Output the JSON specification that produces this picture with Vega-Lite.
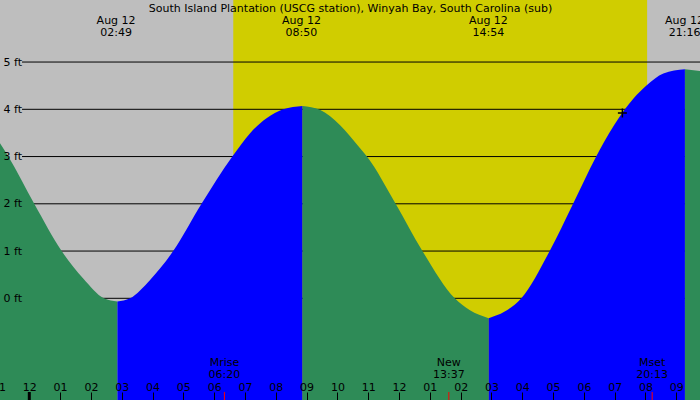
{
  "$schema": "https://vega.github.io/schema/vega-lite/v6.json",
  "width": 702,
  "height": 400,
  "autosize": {"type": "none"},
  "padding": {"left": -2, "right": 0, "top": 0, "bottom": 0},
  "background": "#BEBEBE",
  "datasets": {
    "sky": [
      {"start": -1.5, "end": 6.62, "kind": "night"},
      {"start": 6.62, "end": 20.06, "kind": "day"},
      {"start": 20.06, "end": 22.5, "kind": "night"}
    ],
    "levels": [
      {"ft": 0}, {"ft": 1}, {"ft": 2}, {"ft": 3}, {"ft": 4}, {"ft": 5}
    ],
    "tide": [
      {"h": -1.1, "ft": 3.43, "seg": "a", "kind": "falling"},
      {"h": -0.68, "ft": 3.0, "seg": "a", "kind": "falling"},
      {"h": 0.16, "ft": 2.0, "seg": "a", "kind": "falling"},
      {"h": 1.05, "ft": 1.0, "seg": "a", "kind": "falling"},
      {"h": 1.75, "ft": 0.42, "seg": "a", "kind": "falling"},
      {"h": 2.42, "ft": 0.0, "seg": "a", "kind": "falling"},
      {"h": 2.86, "ft": -0.07, "seg": "a", "kind": "falling"},
      {"h": 2.86, "ft": -0.07, "seg": "b", "kind": "rising"},
      {"h": 3.27, "ft": 0.0, "seg": "b", "kind": "rising"},
      {"h": 3.92, "ft": 0.39, "seg": "b", "kind": "rising"},
      {"h": 4.67, "ft": 1.0, "seg": "b", "kind": "rising"},
      {"h": 5.59, "ft": 2.0, "seg": "b", "kind": "rising"},
      {"h": 6.59, "ft": 3.0, "seg": "b", "kind": "rising"},
      {"h": 7.16, "ft": 3.49, "seg": "b", "kind": "rising"},
      {"h": 7.7, "ft": 3.81, "seg": "b", "kind": "rising"},
      {"h": 8.24, "ft": 4.0, "seg": "b", "kind": "rising"},
      {"h": 8.87, "ft": 4.07, "seg": "b", "kind": "rising"},
      {"h": 8.87, "ft": 4.07, "seg": "c", "kind": "falling"},
      {"h": 9.43, "ft": 3.99, "seg": "c", "kind": "falling"},
      {"h": 10.08, "ft": 3.67, "seg": "c", "kind": "falling"},
      {"h": 10.73, "ft": 3.18, "seg": "c", "kind": "falling"},
      {"h": 10.96, "ft": 3.0, "seg": "c", "kind": "falling"},
      {"h": 11.89, "ft": 2.0, "seg": "c", "kind": "falling"},
      {"h": 12.76, "ft": 1.0, "seg": "c", "kind": "falling"},
      {"h": 13.81, "ft": 0.0, "seg": "c", "kind": "falling"},
      {"h": 14.29, "ft": -0.25, "seg": "c", "kind": "falling"},
      {"h": 14.91, "ft": -0.42, "seg": "c", "kind": "falling"},
      {"h": 14.91, "ft": -0.42, "seg": "d", "kind": "rising"},
      {"h": 15.43, "ft": -0.28, "seg": "d", "kind": "rising"},
      {"h": 15.97, "ft": 0.0, "seg": "d", "kind": "rising"},
      {"h": 16.89, "ft": 1.0, "seg": "d", "kind": "rising"},
      {"h": 17.65, "ft": 2.0, "seg": "d", "kind": "rising"},
      {"h": 18.4, "ft": 3.0, "seg": "d", "kind": "rising"},
      {"h": 18.65, "ft": 3.3, "seg": "d", "kind": "rising"},
      {"h": 19.33, "ft": 4.0, "seg": "d", "kind": "rising"},
      {"h": 19.61, "ft": 4.23, "seg": "d", "kind": "rising"},
      {"h": 20.04, "ft": 4.51, "seg": "d", "kind": "rising"},
      {"h": 20.58, "ft": 4.76, "seg": "d", "kind": "rising"},
      {"h": 21.28, "ft": 4.85, "seg": "d", "kind": "rising"},
      {"h": 21.28, "ft": 4.85, "seg": "e", "kind": "falling"},
      {"h": 21.8, "ft": 4.81, "seg": "e", "kind": "falling"}
    ],
    "extremes": [
      {"h": 2.817, "label": "Aug 12\n02:49"},
      {"h": 8.833, "label": "Aug 12\n08:50"},
      {"h": 14.9, "label": "Aug 12\n14:54"},
      {"h": 21.267, "label": "Aug 12\n21:16"}
    ],
    "moon": [
      {"h": 6.333, "label": "Mrise\n06:20"},
      {"h": 13.617, "label": "New\n13:37"},
      {"h": 20.217, "label": "Mset\n20:13"}
    ],
    "now": [
      {"h": 19.25, "ft": 3.92}
    ],
    "heading": [
      {"h": 10.425, "label": "South Island Plantation (USCG station), Winyah Bay, South Carolina (sub)"}
    ]
  },
  "layer": [
    {
      "data": {"name": "sky"},
      "mark": {"type": "rect", "clip": true},
      "encoding": {
        "x": {
          "field": "start",
          "type": "quantitative",
          "scale": {"domain": [-1.016, 21.769], "nice": false, "zero": false},
          "axis": {"orient": "top", "offset": -400, "title": null, "zindex": 1, "values": [-1, 0, 1, 2, 3, 4, 5, 6, 7, 8, 9, 10, 11, 12, 13, 14, 15, 16, 17, 18, 19, 20, 21], "labelExpr": "pad('' + (((datum.value + 23) % 12) + 1), 2, '0', 'left')"}
        },
        "x2": {"field": "end"},
        "color": {
          "field": "kind",
          "type": "nominal",
          "scale": {"domain": ["night", "day", "falling", "rising"], "range": ["#BEBEBE", "#D0CD00", "#2E8B57", "#0000FF"]},
          "legend": null
        }
      }
    },
    {
      "data": {"name": "levels"},
      "mark": {"type": "rule", "color": "black", "strokeWidth": 1},
      "encoding": {
        "x": {
          "datum": -0.237,
          "type": "quantitative",
          "scale": {"domain": [-1.016, 21.769], "nice": false, "zero": false},
          "axis": {"orient": "top", "offset": -400, "title": null, "zindex": 1, "values": [-1, 0, 1, 2, 3, 4, 5, 6, 7, 8, 9, 10, 11, 12, 13, 14, 15, 16, 17, 18, 19, 20, 21], "labelExpr": "pad('' + (((datum.value + 23) % 12) + 1), 2, '0', 'left')"}
        },
        "x2": {"datum": 21.8},
        "y": {
          "field": "ft",
          "type": "quantitative",
          "scale": {"domain": [-2.152, 6.313], "nice": false, "zero": false},
          "axis": {
            "orient": "right",
            "offset": -702,
            "values": [0, 1, 2, 3, 4, 5],
            "labelExpr": "datum.value + ' ft'",
            "labelPadding": 5,
            "labelBaseline": "middle",
            "ticks": false,
            "title": null,
            "zindex": 1
          }
        }
      }
    },
    {
      "data": {"name": "tide"},
      "mark": {"type": "area", "interpolate": "monotone", "clip": true},
      "encoding": {
        "x": {
          "field": "h",
          "type": "quantitative",
          "scale": {"domain": [-1.016, 21.769], "nice": false, "zero": false},
          "axis": {"orient": "top", "offset": -400, "title": null, "zindex": 1, "values": [-1, 0, 1, 2, 3, 4, 5, 6, 7, 8, 9, 10, 11, 12, 13, 14, 15, 16, 17, 18, 19, 20, 21], "labelExpr": "pad('' + (((datum.value + 23) % 12) + 1), 2, '0', 'left')"}
        },
        "y": {"field": "ft", "type": "quantitative", "scale": {"domain": [-2.152, 6.313], "nice": false, "zero": false}},
        "y2": {"datum": -2.3},
        "detail": {"field": "seg"},
        "color": {
          "field": "kind",
          "type": "nominal",
          "scale": {"domain": ["night", "day", "falling", "rising"], "range": ["#BEBEBE", "#D0CD00", "#2E8B57", "#0000FF"]},
          "legend": null
        }
      }
    },
    {
      "data": {"values": [{"h": 0}]},
      "mark": {"type": "rule", "color": "black", "strokeWidth": 3},
      "encoding": {
        "x": {
          "field": "h",
          "type": "quantitative",
          "scale": {"domain": [-1.016, 21.769], "nice": false, "zero": false},
          "axis": {"orient": "top", "offset": -400, "title": null, "zindex": 1, "values": [-1, 0, 1, 2, 3, 4, 5, 6, 7, 8, 9, 10, 11, 12, 13, 14, 15, 16, 17, 18, 19, 20, 21], "labelExpr": "pad('' + (((datum.value + 23) % 12) + 1), 2, '0', 'left')"}
        },
        "y": {"datum": -2.2, "type": "quantitative", "scale": {"domain": [-2.152, 6.313], "nice": false, "zero": false}},
        "y2": {"datum": -1.983}
      }
    },
    {
      "data": {"name": "moon"},
      "mark": {"type": "rule", "color": "red", "strokeWidth": 1},
      "encoding": {
        "x": {
          "field": "h",
          "type": "quantitative",
          "scale": {"domain": [-1.016, 21.769], "nice": false, "zero": false},
          "axis": {"orient": "top", "offset": -400, "title": null, "zindex": 1, "values": [-1, 0, 1, 2, 3, 4, 5, 6, 7, 8, 9, 10, 11, 12, 13, 14, 15, 16, 17, 18, 19, 20, 21], "labelExpr": "pad('' + (((datum.value + 23) % 12) + 1), 2, '0', 'left')"}
        },
        "y": {"datum": -2.2, "type": "quantitative", "scale": {"domain": [-2.152, 6.313], "nice": false, "zero": false}},
        "y2": {"datum": -1.983}
      }
    },
    {
      "data": {"name": "moon"},
      "mark": {"type": "text", "font": "DejaVu Sans", "fontSize": 11, "color": "black", "align": "center", "baseline": "alphabetic", "lineBreak": "\n", "lineHeight": 11.5},
      "encoding": {
        "x": {
          "field": "h",
          "type": "quantitative",
          "scale": {"domain": [-1.016, 21.769], "nice": false, "zero": false},
          "axis": {"orient": "top", "offset": -400, "title": null, "zindex": 1, "values": [-1, 0, 1, 2, 3, 4, 5, 6, 7, 8, 9, 10, 11, 12, 13, 14, 15, 16, 17, 18, 19, 20, 21], "labelExpr": "pad('' + (((datum.value + 23) % 12) + 1), 2, '0', 'left')"}
        },
        "y": {"datum": -1.443, "type": "quantitative", "scale": {"domain": [-2.152, 6.313], "nice": false, "zero": false}},
        "text": {"field": "label"}
      }
    },
    {
      "data": {"name": "extremes"},
      "mark": {"type": "text", "font": "DejaVu Sans", "fontSize": 11, "color": "black", "align": "center", "baseline": "alphabetic", "lineBreak": "\n", "lineHeight": 12},
      "encoding": {
        "x": {
          "field": "h",
          "type": "quantitative",
          "scale": {"domain": [-1.016, 21.769], "nice": false, "zero": false},
          "axis": {"orient": "top", "offset": -400, "title": null, "zindex": 1, "values": [-1, 0, 1, 2, 3, 4, 5, 6, 7, 8, 9, 10, 11, 12, 13, 14, 15, 16, 17, 18, 19, 20, 21], "labelExpr": "pad('' + (((datum.value + 23) % 12) + 1), 2, '0', 'left')"}
        },
        "y": {"datum": 5.805, "type": "quantitative", "scale": {"domain": [-2.152, 6.313], "nice": false, "zero": false}},
        "text": {"field": "label"}
      }
    },
    {
      "data": {"name": "heading"},
      "mark": {"type": "text", "font": "DejaVu Sans", "fontSize": 11, "color": "black", "align": "center", "baseline": "alphabetic"},
      "encoding": {
        "x": {
          "field": "h",
          "type": "quantitative",
          "scale": {"domain": [-1.016, 21.769], "nice": false, "zero": false},
          "axis": {"orient": "top", "offset": -400, "title": null, "zindex": 1, "values": [-1, 0, 1, 2, 3, 4, 5, 6, 7, 8, 9, 10, 11, 12, 13, 14, 15, 16, 17, 18, 19, 20, 21], "labelExpr": "pad('' + (((datum.value + 23) % 12) + 1), 2, '0', 'left')"}
        },
        "y": {"datum": 6.059, "type": "quantitative", "scale": {"domain": [-2.152, 6.313], "nice": false, "zero": false}},
        "text": {"field": "label"}
      }
    },
    {
      "data": {"name": "now"},
      "mark": {"type": "point", "shape": "M-1,0H1M0,-1V1", "size": 81, "stroke": "black", "strokeWidth": 1.5, "filled": false, "opacity": 1},
      "encoding": {
        "x": {
          "field": "h",
          "type": "quantitative",
          "scale": {"domain": [-1.016, 21.769], "nice": false, "zero": false},
          "axis": {"orient": "top", "offset": -400, "title": null, "zindex": 1, "values": [-1, 0, 1, 2, 3, 4, 5, 6, 7, 8, 9, 10, 11, 12, 13, 14, 15, 16, 17, 18, 19, 20, 21], "labelExpr": "pad('' + (((datum.value + 23) % 12) + 1), 2, '0', 'left')"}
        },
        "y": {"field": "ft", "type": "quantitative", "scale": {"domain": [-2.152, 6.313], "nice": false, "zero": false}}
      }
    }
  ],
  "config": {
    "view": {"stroke": null},
    "axis": {
      "labelFont": "DejaVu Sans",
      "labelFontSize": 11,
      "labelColor": "black",
      "labelFlush": false,
      "labelOverlap": false,
      "labelBound": false,
      "domain": false,
      "grid": false,
      "tickColor": "black",
      "tickWidth": 1
    },
    "axisTop": {
      "tickSize": 8,
      "labelBaseline": "alphabetic",
      "labelPadding": 2
    }
  }
}
